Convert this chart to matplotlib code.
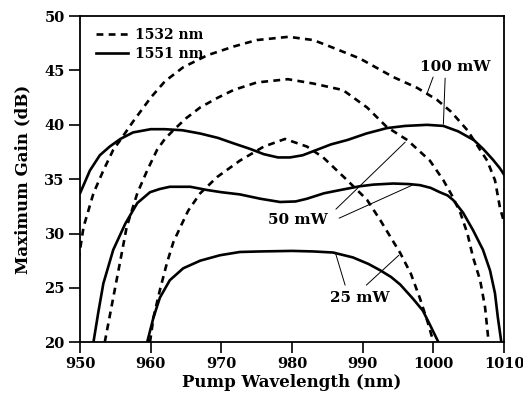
import numpy as np
import matplotlib
matplotlib.use("Agg")
import matplotlib.pyplot as plt

plt.rcParams['font.family'] = ['DejaVu Serif']
plt.rcParams['font.weight'] = 'bold'

# 1532 nm signal (dashed), pump powers 100 / 50 / 25 mW
d100_x = [949.8, 950.0, 950.5, 951.9, 953.3, 954.7, 955.7, 957.5, 960.0, 962.0, 964.6,
          968.0, 971.7, 975.0, 979.5, 983.0, 985.0, 989.6, 994.3, 997.7, 1000.5,
          1002.5, 1004.8, 1006.3, 1007.6, 1008.7, 1009.4, 1010.0]
d100_y = [27.6, 28.5, 30.6, 33.7, 35.8, 37.7, 38.6, 40.3, 42.5, 44.0, 45.3,
          46.4, 47.2, 47.8, 48.1, 47.8, 47.3, 46.1, 44.4, 43.4, 42.3,
          41.2, 39.5, 38.0, 36.7, 34.9, 32.4, 31.0]

d50_x = [953.5, 954.7, 955.7, 956.6, 958.1, 959.5, 960.9, 962.0, 963.2, 965.0,
         967.0, 969.5, 971.7, 975.0, 979.4, 983.0, 987.2, 990.6, 993.4, 996.3,
         999.5, 1001.4, 1002.7, 1003.8, 1004.8, 1005.6, 1006.6, 1007.3, 1007.8]
d50_y = [20.0, 24.1, 27.5, 30.6, 33.7, 35.8, 37.7, 38.7, 39.5, 40.6,
         41.6, 42.5, 43.2, 43.9, 44.2, 43.8, 43.2, 41.6, 39.8, 38.6,
         36.7, 34.9, 33.4, 31.9, 30.0, 27.8, 25.7, 23.2, 20.0]

d25_x = [959.9, 960.4, 961.3, 962.3, 963.2, 964.2, 965.3, 967.0, 969.4, 972.6, 976.0,
         979.0, 982.1, 984.4, 987.8, 990.6, 992.5, 995.3, 996.8, 998.1, 999.2, 1000.0]
d25_y = [20.0, 22.3, 24.8, 27.3, 29.2, 30.6, 32.1, 33.7, 35.2, 36.7, 38.0,
         38.7, 38.0, 37.0, 34.9, 33.1, 31.2, 28.2, 26.3, 24.0, 21.8, 20.0]

# 1551 nm signal (solid), pump powers 100 / 50 / 25 mW
s100_x = [950.0, 951.4, 952.8, 954.2, 955.7, 957.5, 960.0, 962.0, 964.5, 967.0,
          969.5, 971.7, 974.0, 976.0, 978.0, 979.7, 981.5, 983.5, 985.5, 987.8,
          990.5, 993.4, 996.0, 999.1, 1001.4, 1003.5, 1005.7, 1007.0, 1008.4,
          1009.4, 1010.0]
s100_y = [33.7, 35.8, 37.2, 38.0, 38.7, 39.3, 39.6, 39.6, 39.5, 39.2,
          38.8, 38.3, 37.8, 37.3, 37.0, 37.0, 37.2, 37.7, 38.2, 38.6,
          39.2, 39.7, 39.9, 40.0, 39.9, 39.4, 38.6, 37.8, 36.8,
          36.0, 35.4]

s50_x = [951.9, 952.6, 953.3, 954.7, 956.4, 958.1, 959.9, 961.3, 962.7, 965.6,
         968.0, 970.0, 972.6, 975.5, 978.3, 980.5, 982.1, 984.5, 986.8, 989.6,
         991.5, 994.3, 996.5, 998.1, 999.6, 1000.9, 1002.0, 1002.8, 1004.2, 1005.6,
         1007.0, 1008.0, 1008.7, 1009.1, 1009.6]
s50_y = [20.0, 22.8, 25.4, 28.5, 30.9, 32.8, 33.8, 34.1, 34.3, 34.3,
         34.0, 33.8, 33.6, 33.2, 32.9, 32.95, 33.2, 33.7, 34.0, 34.35,
         34.5, 34.6, 34.55, 34.45, 34.2, 33.8, 33.5, 33.07, 31.9, 30.3,
         28.5, 26.6, 24.5, 22.3, 20.0]

s25_x = [959.5, 960.4, 961.3, 962.7, 964.6, 967.0, 969.8, 972.6, 975.5, 980.0,
         983.0, 985.8, 988.6, 990.8, 992.5, 994.0, 995.3, 997.1, 998.5, 999.5, 1000.7]
s25_y = [20.0, 22.3, 24.1, 25.7, 26.8, 27.5, 28.0, 28.3, 28.35, 28.4,
         28.35, 28.25, 27.8, 27.2, 26.6, 26.0, 25.3, 24.0, 22.9, 21.6, 20.0]

fig = plt.figure(figsize=(5.23, 4.04), dpi=100)
ax = fig.add_axes([0.153, 0.153, 0.811, 0.807])

dash = (2.6, 2.0)
lw = 1.9
ax.plot(d100_x, d100_y, color='black', lw=lw, dashes=dash, label='1532 nm')
ax.plot(s100_x, s100_y, color='black', lw=lw, label='1551 nm')
ax.plot(d50_x, d50_y, color='black', lw=lw, dashes=dash)
ax.plot(s50_x, s50_y, color='black', lw=lw)
ax.plot(d25_x, d25_y, color='black', lw=lw, dashes=dash)
ax.plot(s25_x, s25_y, color='black', lw=lw)

ax.set_xlim(950, 1010)
ax.set_ylim(20, 50)
ax.set_xticks(np.arange(950, 1011, 10))
ax.set_yticks(np.arange(20, 51, 5))
ax.tick_params(direction='out', length=8, width=1.2, labelsize=10.5, pad=3)
for s in ax.spines.values():
    s.set_linewidth(1.3)

ax.set_xlabel('Pump Wavelength (nm)', fontsize=12, fontweight='bold', labelpad=2)
ax.set_ylabel('Maximum Gain (dB)', fontsize=12, fontweight='bold', labelpad=9)

leg = ax.legend(loc='upper left', bbox_to_anchor=(0.015, 0.995), frameon=False,
                fontsize=10, handlelength=2.3, handletextpad=0.5,
                labelspacing=0.4, borderpad=0.2)

# power labels with leader lines
thin = dict(arrowstyle='-', color='black', lw=0.7, shrinkA=0, shrinkB=0)
ax.text(1003.1, 45.3, '100 mW', ha='center', va='center', fontsize=11, fontweight='bold')
ax.annotate('', xy=(999.1, 42.9), xytext=(999.95, 44.4), arrowprops=thin)
ax.annotate('', xy=(1001.4, 40.06), xytext=(1001.65, 44.3), arrowprops=thin)

ax.text(980.8, 31.2, '50 mW', ha='center', va='center', fontsize=11, fontweight='bold')
ax.annotate('', xy=(996.0, 38.41), xytext=(986.2, 32.24), arrowprops=thin)
ax.annotate('', xy=(997.0, 34.45), xytext=(986.65, 31.41), arrowprops=thin)

ax.text(989.6, 24.05, '25 mW', ha='center', va='center', fontsize=11, fontweight='bold')
ax.annotate('', xy=(986.1, 28.28), xytext=(987.5, 25.25), arrowprops=thin)
ax.annotate('', xy=(995.1, 28.0), xytext=(990.5, 25.25), arrowprops=thin)

fig.savefig('out.png', dpi=100)
